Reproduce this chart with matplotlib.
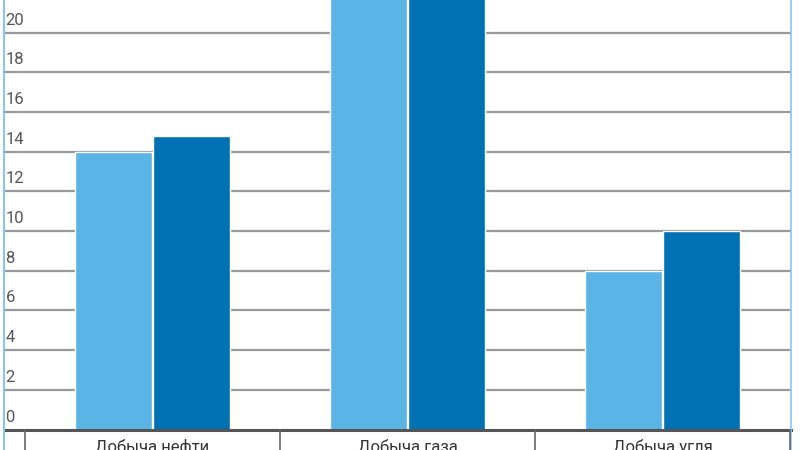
import matplotlib.pyplot as plt

# data
categories = ['Добыча нефти', 'Добыча газа', 'Добыча угля']
series_a = [14, 24, 8]       # lighter bars
series_b = [14.8, 25, 10]    # darker bars
y_ticks = [0, 2, 4, 6, 8, 10, 12, 14, 16, 18, 20]

light = '#5ab4e6'
dark = '#0071b3'
grid_col = '#9a9a9a'
frame_col = '#8cc6e6'

plt.rcParams['font.family'] = ['Roboto', 'DejaVu Sans']

fig = plt.figure(figsize=(8, 4.5), dpi=100)
ax = fig.add_axes([0, 0, 1, 1])

# pixel -> data mapping: category spacing 255 px, 19.85 px per unit
px_x = 255.0
px_y = 19.85
x0_px = 152.5
y0_px = 429.5
ax.set_xlim(-x0_px / px_x, (800 - x0_px) / px_x)
ax.set_ylim(-(450 - y0_px) / px_y, y0_px / px_y)
ax.axis('off')

x_left = (4 - x0_px) / px_x
x_right = (790 - x0_px) / px_x

# gridlines and tick labels
for t in y_ticks[1:]:
    ax.plot([x_left, x_right], [t, t], color=grid_col, lw=1.6, zorder=1)
for t in y_ticks:
    ax.text(x_left + 1.5 / px_x, t + 0.25, str(t), ha='left', va='bottom',
            fontsize=12, color='#555555', zorder=4)

# bars
w = 77 / px_x
off = 39 / px_x
xs = list(range(len(categories)))
ax.bar([x - off for x in xs], series_a, width=w, color=light,
       edgecolor='white', linewidth=1, zorder=2)
ax.bar([x + off for x in xs], series_b, width=w, color=dark,
       edgecolor='white', linewidth=1, zorder=2)

# baseline and frame
ax.plot([x_left, (791 - x0_px) / px_x], [0, 0], color='#555555', lw=2.2, zorder=3)
ax.axvline(x_left, color=frame_col, lw=1.5, zorder=3)
ax.axvline((791.5 - x0_px) / px_x, ymin=0.0, ymax=1.0, color=frame_col, lw=1.2, zorder=3)

# category table below the axis
ybot = -(450 - y0_px) / px_y
for b in [-0.5, 0.5, 1.5, 2.5]:
    ax.plot([b, b], [0, ybot], color='#666666', lw=1.2, zorder=3)
for x, c in zip(xs, categories):
    ax.text(x, -0.5, c, ha='center', va='top', fontsize=12, color='#333333')

fig.savefig('out.png', dpi=100)
